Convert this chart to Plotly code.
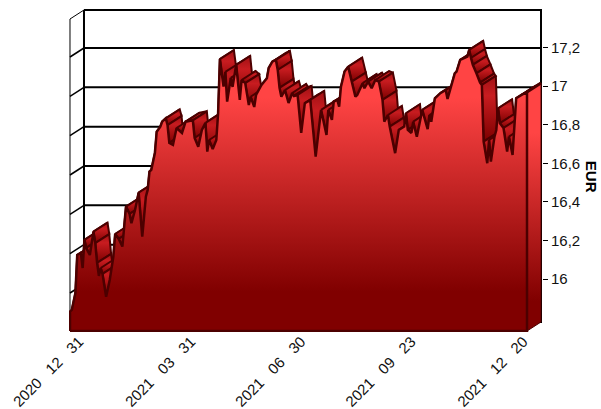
import plotly.graph_objects as go

# Chart data (trading-day index, price in EUR)
day = [0,1,3,4,6,7,8,9,11,13,14,15,16,17,18,20,22,24,25,27,29,31,33,34,36,38,40,42,43,44,45,47,48,50,51,53,54,55,57,59,62,64,68,69,71,73,75,76,77,79,81,82,83,85,86,87,89,90,92,94,95,97,99,100,102,103,106,109,110,112,114,115,116,117,119,121,123,124,126,128,130,133,136,138,139,142,143,145,146,148,149,150,152,154,156,158,159,162,163,165,167,169,171,173,174,176,177,180,182,185,186,187,189,190,192,195,198,199,200,202,205,208,209,213,214,216,220,221,222,223,225,227,228,229,231,232,233,235,236,237,238,240,242,243,245,246,247,250,253]
price = [15.905,15.914,16.000,16.193,16.204,16.127,16.270,16.229,16.193,16.312,16.254,16.153,16.087,16.127,16.097,15.981,16.066,16.185,16.300,16.275,16.236,16.439,16.402,16.355,16.422,16.510,16.287,16.490,16.524,16.617,16.626,16.712,16.820,16.846,16.871,16.888,16.854,16.763,16.753,16.839,16.814,16.871,16.878,16.788,16.744,16.829,16.865,16.719,16.778,16.732,16.778,16.916,17.189,17.049,17.124,16.973,17.094,17.048,17.160,16.982,17.083,17.067,16.956,16.998,16.946,17.007,17.058,17.092,17.144,17.176,17.185,17.134,17.043,16.998,17.032,16.966,17.017,17.002,17.007,16.814,16.965,16.982,16.693,16.854,16.931,16.804,16.931,16.880,16.973,16.982,16.948,17.049,17.126,17.151,17.075,16.998,17.007,17.067,17.041,17.075,17.041,17.083,17.075,16.982,16.871,16.905,16.846,16.711,16.829,16.846,16.914,16.829,16.814,16.871,16.795,16.931,16.833,16.905,16.871,16.990,17.016,17.032,16.987,17.117,17.126,17.185,17.202,17.236,17.195,17.160,17.117,17.070,17.058,16.770,16.660,16.778,16.668,16.795,16.829,16.939,16.863,16.839,16.719,16.795,16.702,16.846,16.990,17.007,17.022]
tick_days = [0, 62, 123, 184, 246]
tick_dates = ["2020\u00a0\u00a0\u00a012\u00a0\u00a0\u00a031", "2021\u00a0\u00a0\u00a003\u00a0\u00a0\u00a031", "2021\u00a0\u00a0\u00a006\u00a0\u00a0\u00a030", "2021\u00a0\u00a0\u00a009\u00a0\u00a0\u00a023", "2021\u00a0\u00a0\u00a012\u00a0\u00a0\u00a020"]
y_ticks = [16, 16.2, 16.4, 16.6, 16.8, 17, 17.2]
y_labels = ["16", "16,2", "16,4", "16,6", "16,8", "17", "17,2"]

# geometry of the pseudo-3D box
W, H = 601, 409
L, R, T, B = 70, 541, 10, 331
DEPTH_X, DEPTH_Y = 14, 9
X_END = day[-1]
px_per_day = (R - DEPTH_X - L) / X_END
px_per_eur = 196.67
DX = DEPTH_X / px_per_day
DY = DEPTH_Y / px_per_eur
Y_LOW = 16 - (B - 284) / px_per_eur
Y_HIGH = Y_LOW + (B - T) / px_per_eur
BASE = Y_LOW + DY

# the printed scale runs slightly tighter than the grid
label_px_per_eur = 192.9
LABEL_16_Y = 279

LINE = "#4c0000"
QUAD_SCALE = [[0, "#7c0000"], [0.7, "#c81c20"], [1, "#a01014"]]
FACE_SCALE = [[0, "#800000"], [0.14, "#800000"], [0.83, "#ff4444"], [1, "#ff4444"]]
fig = go.Figure()

def frame(xs, ys, width=1, color="black"):
    fig.add_trace(go.Scatter(x=xs, y=ys, mode="lines", line=dict(color=color, width=width), hoverinfo="skip"))

def quad(i):
    xs = [day[i] - DX, day[i + 1] - DX, day[i + 1], day[i], day[i] - DX]
    ys = [price[i] - DY, price[i + 1] - DY, price[i + 1], price[i], price[i] - DY]
    fig.add_trace(go.Scatter(
        x=xs, y=ys, mode="lines", fill="toself",
        line=dict(color=LINE, width=2), hoverinfo="skip", fillcolor="#b01818",
        fillgradient=dict(type="vertical", colorscale=QUAD_SCALE),
    ))

# walls and grid
frame([0, X_END, X_END, 0, 0], [Y_HIGH, Y_HIGH, BASE, BASE, Y_HIGH], 2)
frame([-DX, -DX, 0], [BASE - DY, Y_HIGH - DY, Y_HIGH], 1)
for v in y_ticks:
    frame([-DX, 0], [v - DY, v], 1.5)
    frame([0, X_END], [v, v], 2)

# top surface of the extruded area: back-turned faces first, then faces turned to the viewer
facing = []
for i in range(len(day) - 1):
    sx = (day[i + 1] - day[i]) * px_per_day
    sy = (price[i + 1] - price[i]) * px_per_eur
    facing.append(sx * DEPTH_Y - sy * DEPTH_X > 0)
for i, f in enumerate(facing):
    if not f:
        quad(i)
for i, f in enumerate(facing):
    if f:
        quad(i)

# right side face
sx_ = [X_END - DX, X_END, X_END, X_END - DX, X_END - DX]
sy_ = [price[-1] - DY, price[-1], BASE, BASE - DY, price[-1] - DY]
fig.add_trace(go.Scatter(
    x=sx_, y=sy_, mode="lines", fill="toself", line=dict(color=LINE, width=1), hoverinfo="skip",
    fillcolor="#b01818",
    fillgradient=dict(type="vertical", colorscale=[[0, "#800000"], [0.12, "#800000"], [0.8, "#ff4444"], [1, "#ff4444"]]),
))
frame([X_END - DX, X_END], [price[-1] - DY, price[-1]], 3, LINE)

# front face
fx = [d - DX for d in day]
fy = [p - DY for p in price]
fig.add_trace(go.Scatter(
    x=[fx[0]] + fx + [fx[-1], fx[0]], y=[BASE - DY] + fy + [BASE - DY, BASE - DY],
    mode="lines", fill="toself", line=dict(color=LINE, width=2.5), hoverinfo="skip",
    fillcolor="#c02020",
    fillgradient=dict(type="vertical", colorscale=FACE_SCALE),
))

# axis that carries the printed price labels
fig.add_trace(go.Scatter(x=[0], y=[16], yaxis="y2", mode="markers", marker=dict(opacity=0), hoverinfo="skip"))

fig.update_layout(
    width=W, height=H, showlegend=False, paper_bgcolor="white", plot_bgcolor="white",
    margin=dict(l=L - 1, r=W - R - 1, t=T - 1, b=H - B - 1),
    font=dict(family="Liberation Sans, Arial, sans-serif", size=15, color="#111111"),
    xaxis=dict(range=[-DX - 0.55, X_END + 0.55], showgrid=False, zeroline=False, showline=False, automargin=False,
               tickmode="array", tickvals=tick_days, ticktext=tick_dates, tickangle=-45, ticks="", ticklabelshift=-5, ticklabelstandoff=-3),
    yaxis=dict(range=[Y_LOW - 1 / px_per_eur, Y_HIGH + 1 / px_per_eur], side="right", showgrid=False, zeroline=False,
               showline=False, automargin=False, showticklabels=False, ticks=""),
    yaxis2=dict(range=[16 - (B + 1 - LABEL_16_Y) / label_px_per_eur, 16 + (LABEL_16_Y - T + 1) / label_px_per_eur],
                overlaying="y", side="right", showgrid=False, zeroline=False, showline=False, automargin=False,
                tickmode="array", tickvals=y_ticks, ticktext=y_labels, ticks="outside", ticklen=5, tickcolor="black", tickwidth=1),
    annotations=[dict(text="<b>EUR</b>", xref="paper", yref="paper", x=(591 - L) / (R - L), y=(B - 177) / (B - T),
                      xanchor="center", yanchor="middle", showarrow=False, textangle=90, borderpad=0, font=dict(size=15, color="black"))],
)
fig.write_html("out.html", post_script="document.body.style.margin='0';", config={"displayModeBar": False})
